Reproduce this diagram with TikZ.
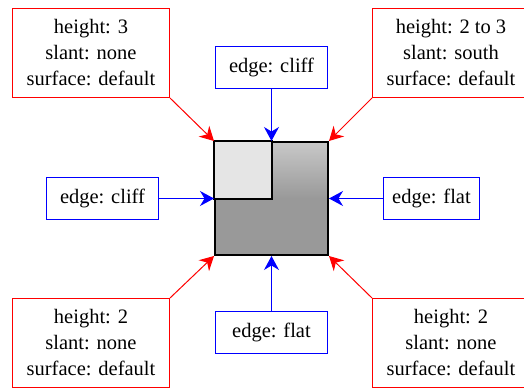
\documentclass[tikz,border=0pt]{standalone}
\usepackage{fontspec}
\setmainfont{Liberation Serif}
\usetikzlibrary{arrows.meta}
\definecolor{tiledark}{HTML}{999999}
\definecolor{tiletop}{HTML}{C8C8C8}
\definecolor{tilelight}{HTML}{E5E5E5}
\definecolor{edgeblue}{RGB}{0,0,255}
\definecolor{cornerred}{RGB}{255,0,0}
\tikzset{
  boxtext/.style={align=center, font=\fontsize{20.5}{26}\selectfont},
  cornerbox/.style={boxtext, draw=cornerred, line width=1pt, minimum width=157pt, minimum height=89pt},
  edgebox/.style={boxtext, draw=edgeblue, line width=1pt, minimum height=42pt, inner xsep=2pt},
  redarrow/.style={cornerred, line width=1pt, -{Stealth[length=14pt,width=15pt]}},
  bluearrow/.style={edgeblue, line width=1pt, -{Stealth[length=14pt,width=15pt]}},
}
\begin{document}
\begin{tikzpicture}[x=1pt, y=-1pt]
    \useasboundingbox (0,0) rectangle (524,390);
    % the tile
    \fill[tiledark] (215,142) rectangle (328,255);
    \shade[top color=tiletop, bottom color=tiledark] (215,142) rectangle (328,198.5);
    \node[draw, line width=2pt, minimum size=113pt, inner sep=0pt] (tile) at (271.5,198.5) {};
    \draw[line width=2pt, fill=tilelight] (tile.north west) rectangle (tile.center);
    % edge boxes
    \node[edgebox, minimum width=112pt] (edgeN) at (271.5,67.5) {edge: cliff};
    \node[edgebox, minimum width=112pt] (edgeW) at (102.5,198.5) {edge: cliff};
    \node[edgebox, minimum width=96pt] (edgeE) at (431.5,198.5) {edge: flat};
    \node[edgebox, minimum width=112pt] (edgeS) at (271.5,332.5) {edge: flat};
    % corner boxes
    \node[cornerbox] (cornerNW) at (91,53) {height: 3\\slant: none\\surface: default};
    \node[cornerbox] (cornerNE) at (451,53) {height: 2 to 3\\slant: south\\surface: default};
    \node[cornerbox] (cornerSW) at (91,343) {height: 2\\slant: none\\surface: default};
    \node[cornerbox] (cornerSE) at (451,343) {height: 2\\slant: none\\surface: default};
    \draw[redarrow] (cornerNW.south east) -- (tile.north west);
    \draw[redarrow] (cornerNE.south west) -- (tile.north east);
    \draw[redarrow] (cornerSW.north east) -- (tile.south west);
    \draw[redarrow] (cornerSE.north west) -- (tile.south east);
    \draw[bluearrow] (edgeN) -- (tile);
    \draw[bluearrow] (edgeW) -- (tile);
    \draw[bluearrow] (edgeE) -- (tile);
    \draw[bluearrow] (edgeS) -- (tile);
\end{tikzpicture}
\end{document}
